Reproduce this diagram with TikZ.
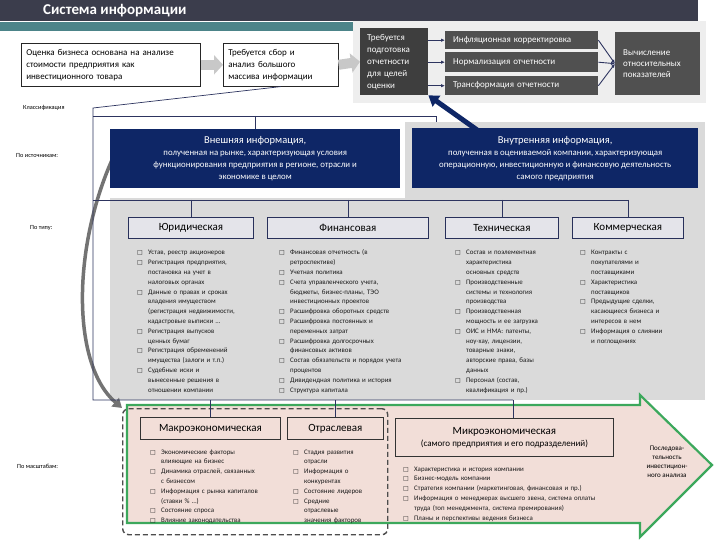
\documentclass[tikz,border=0pt]{standalone}
\usepackage{fontspec}
\setmainfont{Carlito}
\newfontfamily\symf{DejaVu Sans}
\usetikzlibrary{arrows.meta}
\definecolor{tbar}{RGB}{59,61,76}
\definecolor{tealc}{RGB}{76,132,137}
\definecolor{bgl}{RGB}{238,238,238}
\definecolor{dbox}{RGB}{62,62,62}
\definecolor{mbox}{RGB}{80,80,80}
\definecolor{navy}{RGB}{14,38,102}
\definecolor{panel}{RGB}{218,218,218}
\definecolor{catf}{RGB}{228,228,234}
\definecolor{catd}{RGB}{40,48,90}
\definecolor{pinkf}{RGB}{242,222,216}
\definecolor{greenc}{RGB}{60,168,92}
\definecolor{lnc}{RGB}{45,52,95}
\definecolor{arrg}{RGB}{200,200,200}
\definecolor{curvg}{RGB}{115,115,115}
\newcommand{\li}[1]{\par\hangindent=11pt\hangafter=1\noindent\makebox[11pt][l]{\symf\fontsize{6}{6}\selectfont □}#1\par}
\newcommand{\brk}{\newline}
\tikzset{
 wbox/.style={draw=black!85, line width=0.6pt, fill=white, anchor=north west, inner xsep=5pt, inner ysep=0pt, align=left, font=\fontsize{9}{12}\selectfont},
 dkbox/.style={fill=dbox, text=white, anchor=north west, inner xsep=7pt, inner ysep=0pt, align=left, font=\fontsize{9}{12}\selectfont},
 gbox/.style={fill=mbox, text=white, anchor=north west, inner xsep=8pt, inner ysep=0pt, align=left, font=\fontsize{9}{11}\selectfont},
 nbox/.style={fill=navy, text=white, anchor=north west, align=center, inner sep=0pt, font=\fontsize{8.8}{12}\selectfont},
 cat/.style={draw=catd, line width=0.8pt, fill=catf, anchor=north west, inner sep=0pt, font=\fontsize{11}{13}\selectfont},
 pbox/.style={draw=black!80, line width=0.8pt, fill=pinkf, anchor=north west, inner sep=0pt, font=\fontsize{11}{13}\selectfont},
 lst/.style={anchor=north west, inner sep=0pt, align=left, text=black!90, font=\fontsize{6.9}{9.8}\selectfont},
 side/.style={anchor=west, inner sep=0pt, font=\fontsize{6.3}{7}\selectfont},
 tree/.style={draw=lnc, line width=0.7pt},
 thin arrow/.style={draw=lnc, line width=0.9pt, -{Latex[length=4pt,width=3.5pt]}},
 block/.style={draw=arrg, line width=10pt, -{Triangle[length=9pt,width=19pt]}},
}
\begin{document}
\begin{tikzpicture}[x=1pt,y=-1pt]
\useasboundingbox (0,0) rectangle (720,540);
\fill[white] (0,0) rectangle (720,540);
% title area
\fill[tbar] (0,0) rectangle (698,21);
\fill[tealc] (0,22) rectangle (353,31);
\fill[bgl] (353,21) rectangle (706,103);
\node[anchor=west, text=white, font=\fontsize{15}{18}\selectfont\bfseries, inner sep=0pt] (title) at (43,11) {Система информации};
% top boxes
\node[wbox, minimum height=43pt, text width=169pt] (box1) at (21,43) {Оценка бизнеса основана на анализе\\стоимости предприятия как\\инвестиционного товара};
\node[wbox, minimum height=43pt, text width=105pt] (box2) at (223,43) {Требуется сбор и\\анализ большого\\массива информации};
\node[dkbox, minimum height=67pt, text width=54pt] (box3) at (360,28) {Требуется\\подготовка\\отчетности\\для целей\\оценки};
\node[gbox, minimum height=18pt, text width=137pt] (inf1) at (445,31) {Инфляционная корректировка};
\node[gbox, minimum height=20pt, text width=137pt] (inf2) at (445,52) {Нормализация отчетности};
\node[gbox, minimum height=19pt, text width=137pt] (inf3) at (445,76) {Трансформация отчетности};
\node[gbox, minimum height=63pt, text width=69pt] (calcb) at (615,32) {Вычисление\\относительных\\показателей};
\draw[block] (box1.east) -- (box2.west);
\draw[block] (box2.east) -- (box3.west);
\foreach \n in {inf1,inf2,inf3}{
  \draw[thin arrow] (box3.east |- \n) -- (\n.west);
  \draw[thin arrow] (\n.east) -- (calcb.west);
}
% panels
\fill[panel] (405,122) rectangle (705,400);
\fill[panel] (110,198) rectangle (705,400);
% green arrow
\draw[greenc, line width=2.2pt, fill=pinkf, line join=miter] (127,405) -- (640,405) -- (640,395) -- (712,465) -- (640,537) -- (640,523) -- (127,523) -- cycle;
\node[draw=black!70, line width=1.4pt, dash pattern=on 5pt off 3pt, rounded corners=6pt, minimum width=265pt, minimum height=126pt, anchor=north west, inner sep=0pt] (scale) at (122,408) {};
% navy and curved arrows
\coordinate (na) at (480,132);
\draw[navy, line width=5pt, -{Triangle[length=10pt,width=13pt]}] (na) -- (box3.south east);
\coordinate (cs) at (112,160);
\draw[curvg, line width=3.5pt, -{Triangle[length=9pt,width=11pt]}] (cs) .. controls (72,250) and (72,365) .. (scale.north west);
% source boxes
\node[nbox, minimum width=290pt, minimum height=59pt] (ext) at (110,129) {{\fontsize{10.5}{13}\selectfont Внешняя информация,}\\полученная на рынке, характеризующая условия\\функционирования предприятия в регионе, отрасли и\\экономике в целом};
\node[nbox, minimum width=286pt, minimum height=60pt] (int) at (412,128) {{\fontsize{10.5}{13}\selectfont Внутренняя информация,}\\полученная в оцениваемой компании, характеризующая\\операционную, инвестиционную и финансовую деятельность\\самого предприятия};
% type boxes
\node[cat, minimum width=125pt, minimum height=21pt] (jur) at (128,217) {Юридическая};
\node[cat, minimum width=161pt, minimum height=21pt] (fin) at (267,217) {Финансовая};
\node[cat, minimum width=113pt, minimum height=21pt] (tech) at (445,217) {Техническая};
\node[cat, minimum width=111pt, minimum height=21pt] (com) at (572,217) {Коммерческая};
\node[lst, text width=130pt] (ljur) at (137,245) {\li{Устав, реестр акционеров}
\li{Регистрация предприятия,\brk постановка на учет в\brk налоговых органах}
\li{Данные о правах и сроках\brk владения имуществом\brk (регистрация недвижимости,\brk кадастровые выписки …}
\li{Регистрация выпусков\brk ценных бумаг}
\li{Регистрация обременений\brk имущества (залоги и т.п.)}
\li{Судебные иски и\brk вынесенные решения в\brk отношении компании}};
\node[lst, text width=170pt] (lfin) at (279,245) {\li{Финансовая отчетность (в\brk ретроспективе)}
\li{Учетная политика}
\li{Счета управленческого учета,\brk бюджеты, бизнес-планы, ТЭО\brk инвестиционных проектов}
\li{Расшифровка оборотных средств}
\li{Расшифровка постоянных и\brk переменных затрат}
\li{Расшифровка долгосрочных\brk финансовых активов}
\li{Состав обязательств и порядок учета\brk процентов}
\li{Дивидендная политика и история}
\li{Структура капитала}};
\node[lst, text width=130pt] (ltech) at (455,245) {\li{Состав и поэлементная\brk характеристика\brk основных средств}
\li{Производственные\brk системы и технология\brk производства}
\li{Производственная\brk мощность и ее загрузка}
\li{ОИС и НМА: патенты,\brk ноу-хау, лицензии,\brk товарные знаки,\brk авторские права, базы\brk данных}
\li{Персонал (состав,\brk квалификация и пр.)}};
\node[lst, text width=130pt] (lcom) at (580,245) {\li{Контракты с\brk покупателями и\brk поставщиками}
\li{Характеристика\brk поставщиков}
\li{Предыдущие сделки,\brk касающиеся бизнеса и\brk интересов в нем}
\li{Информация о слиянии\brk и поглощениях}};
% scale boxes
\node[pbox, minimum width=140pt, minimum height=22pt] (macro) at (140,417) {Макроэкономическая};
\node[pbox, minimum width=96pt, minimum height=22pt] (otr) at (287,417) {Отраслевая};
\node[pbox, minimum width=218pt, minimum height=38pt, align=center, font=\fontsize{9}{12}\selectfont] (micro) at (395,418) {{\fontsize{11}{13}\selectfont Микроэкономическая}\\(самого предприятия и его подразделений)};
\node[lst, text width=150pt] (lmacro) at (150,444) {\li{Экономические факторы\brk влияющие на бизнес}
\li{Динамика отраслей, связанных\brk с бизнесом}
\li{Информация с рынка капиталов\brk (ставки \% …)}
\li{Состояние спроса}
\li{Влияние законодательства}};
\node[lst, text width=100pt] (lotr) at (293,444) {\li{Стадия развития\brk отрасли}
\li{Информация о\brk конкурентах}
\li{Состояние лидеров}
\li{Средние\brk отраслевые\brk значения факторов}};
\node[lst, text width=240pt] (lmicro) at (403,461) {\li{Характеристика и история компании}
\li{Бизнес-модель компании}
\li{Стратегия компании (маркетинговая, финансовая и пр.)}
\li{Информация о менеджерах высшего звена, система оплаты\brk труда (топ менеджмента, система премирования)}
\li{Планы и перспективы ведения бизнеса}};
\node[align=center, inner sep=0pt, font=\fontsize{7}{9}\selectfont] (seq) at (667,462) {Последова-\\тельность\\инвестицион-\\ного анализа};
% tree lines
\coordinate (k0) at (93,108);
\coordinate (k1) at (93,116);
\coordinate (k2) at (93,200);
\coordinate (k3) at (93,400);
\coordinate (b1e) at (436,116);
\coordinate (b3e) at (513,400);
\draw[tree] (box2.south) -- (k0) -- (k3) -- (b3e);
\draw[tree] (k1) -- (b1e) -- ++(0,6);
\draw[tree] (k1 -| ext.north) -- (ext.north);
\draw[tree] (k2) -- (com.north |- k2);
\foreach \n in {jur,fin,tech,com} \draw[tree] (\n.north |- k2) -- (\n.north);
\foreach \n in {macro,otr} \draw[tree] (\n.north |- k3) -- (\n.north);
\draw[tree] (b3e) -- (b3e |- micro.north);
% side labels
\node[side] (lk) at (23,108) {Классификация};
\node[side] (lsrc) at (16,156) {По источникам:};
\node[side] (ltype) at (30,228) {По типу:};
\node[side] (lscale) at (17,466) {По масштабам:};
\end{tikzpicture}
\end{document}
